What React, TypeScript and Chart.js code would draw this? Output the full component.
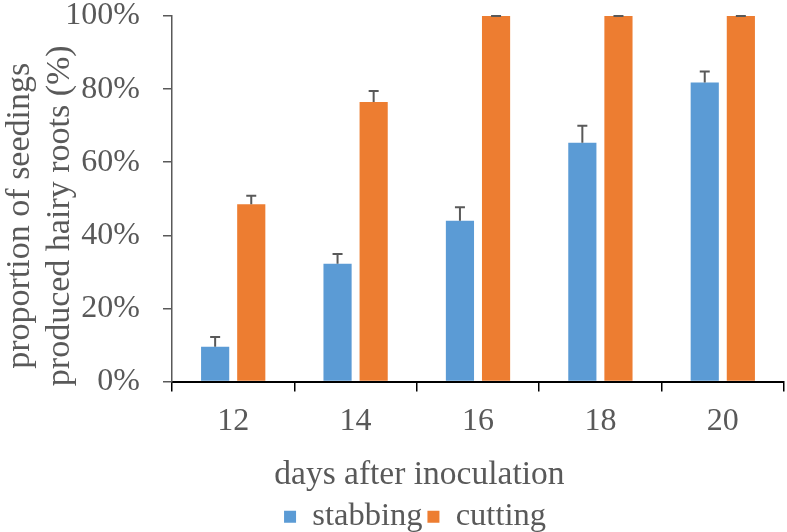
import React, { useEffect, useRef } from 'react';
import { Chart, registerables } from 'chart.js';

Chart.register(...registerables);

const categories = ['12', '14', '16', '18', '20'];
const stabbing = [9.5, 32.2, 44.0, 65.3, 81.8];
const stabbingErr = [2.7, 2.7, 3.7, 4.7, 3.0];
const cutting = [48.5, 76.5, 100, 100, 100];
const cuttingErr = [2.3, 3.0, 0, 0, 0];
const yMin = 0;
const yMax = 100;
const yStep = 20;
const yTitle = ['proportion of seedings    ', 'produced hairy roots (%)    '];
const xTitle = 'days after inoculation              ';

const FONT = "'Liberation Serif', 'Times New Roman', serif";
const TEXT = '#595959';

const errorBars = {
  id: 'errorBars',
  afterDatasetsDraw(chart: any) {
    const { ctx } = chart;
    const yScale = chart.scales.y;
    chart.data.datasets.forEach((ds: any, di: number) => {
      const meta = chart.getDatasetMeta(di);
      const errs: number[] = ds.errors || [];
      meta.data.forEach((el: any, i: number) => {
        const v = ds.data[i];
        const e = errs[i] || 0;
        const yTop = yScale.getPixelForValue(v + e);
        const yBar = yScale.getPixelForValue(v);
        ctx.save();
        ctx.strokeStyle = TEXT;
        ctx.lineWidth = 2;
        ctx.beginPath();
        ctx.moveTo(el.x, yBar);
        ctx.lineTo(el.x, yTop);
        ctx.moveTo(el.x - 5, yTop);
        ctx.lineTo(el.x + 5, yTop);
        ctx.stroke();
        ctx.restore();
      });
    });
  },
};

const legendShift = {
  id: 'legendShift',
  afterLayout(chart: any) {
    if (chart.legend) {
      chart.legend.left += 23;
      chart.legend.right += 23;
    }
  },
};

export default function App() {
  const ref = useRef<HTMLCanvasElement>(null);
  useEffect(() => {
    document.body.style.margin = '0';
    const chart = new Chart(ref.current!, {
      type: 'bar',
      data: {
        labels: categories,
        datasets: [
          {
            label: 'stabbing',
            data: stabbing,
            errors: stabbingErr,
            backgroundColor: '#5B9BD5',
            categoryPercentage: 0.59,
            barPercentage: 0.78,
          } as any,
          {
            label: 'cutting',
            data: cutting,
            errors: cuttingErr,
            backgroundColor: '#ED7D31',
            categoryPercentage: 0.59,
            barPercentage: 0.78,
          } as any,
        ],
      },
      options: {
        responsive: false,
        animation: false,
        layout: { padding: { top: 0, right: 3, left: 0, bottom: -11 } },
        plugins: {
          tooltip: { enabled: false },
          legend: {
            position: 'bottom',
            labels: {
              boxWidth: 12,
              boxHeight: 12,
              padding: 5,
              color: TEXT,
              font: { family: FONT, size: 32.5 },
            },
          },
        },
        scales: {
          x: {
            afterFit: (s: any) => { s.height = 114; },
            grid: {
              display: true,
              drawOnChartArea: false,
              drawTicks: true,
              tickLength: 10,
              color: '#000',
              lineWidth: 1.5,
            },
            border: { display: true, color: '#000', width: 2 },
            ticks: {
              color: TEXT,
              padding: 11,
              font: { family: FONT, size: 32 },
            },
            title: {
              display: true,
              text: xTitle,
              color: TEXT,
              font: { family: FONT, size: 33.5 },
              padding: { top: 0, bottom: 0 },
            },
          },
          y: {
            min: yMin,
            max: yMax,
            afterFit: (s: any) => {
              s.width = 172;
              s.paddingTop = 16;
              s.paddingBottom = 16;
            },
            grid: {
              display: true,
              drawOnChartArea: false,
              drawTicks: true,
              tickLength: 9,
              color: TEXT,
              lineWidth: 1.5,
            },
            border: { display: true, color: TEXT, width: 1.5 },
            ticks: {
              stepSize: yStep,
              color: TEXT,
              padding: 23,
              font: { family: FONT, size: 32, lineHeight: 1 },
              callback: (v: any) => v + '%',
            },
            title: {
              display: true,
              text: yTitle,
              color: TEXT,
              font: { family: FONT, size: 34, lineHeight: 1.18 },
              padding: { top: 0, bottom: 0 },
            },
          },
        },
      },
      plugins: [errorBars, legendShift],
    });
    return () => chart.destroy();
  }, []);
  return (
    <div style={{ width: 787, height: 532 }}>
      <canvas ref={ref} width={787} height={532} />
    </div>
  );
}
